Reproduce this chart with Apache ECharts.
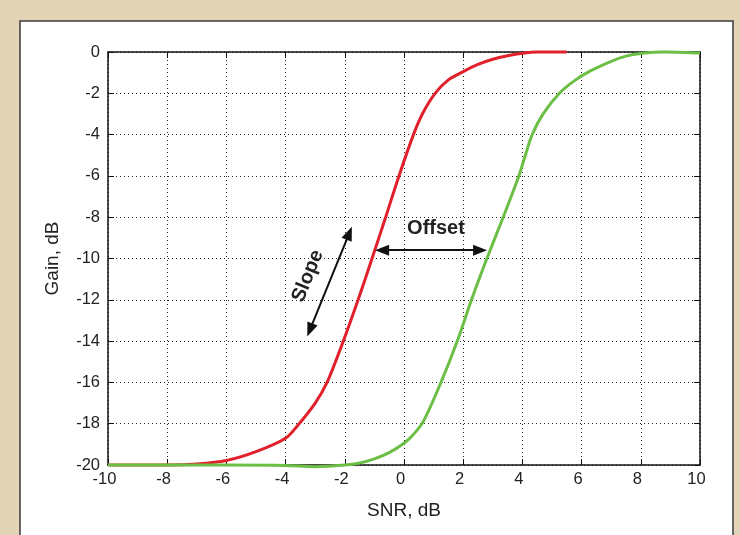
<!DOCTYPE html>
<html><head><meta charset="utf-8">
<script src="https://cdn.jsdelivr.net/npm/echarts@6/dist/echarts.min.js"></script>
<style>html,body{margin:0;padding:0;background:#e3d4b7;}#c{width:740px;height:535px;}</style>
</head><body><div id="c"></div>
<script>
// Tick values
const xTicks = [-10,-8,-6,-4,-2,0,2,4,6,8,10];
const yTicks = [0,-2,-4,-6,-8,-10,-12,-14,-16,-18,-20];
// Red curve (SNR, gain)
const redX = [-10,-8,-7,-6,-5,-4,-3.6,-3,-2.6,-2.05,-1.55,-1.08,-0.62,-0.17,0.32,0.62,1.05,1.5,2,2.5,3,3.5,4,4.5,5.5];
const redY = [-20,-20,-19.95,-19.78,-19.35,-18.7,-18.1,-17.0,-16,-14,-12,-10,-8,-6,-4,-3,-2,-1.35,-0.95,-0.6,-0.35,-0.18,-0.06,0,0];
// Green curve
const greenX = [-10,-6,-4,-3,-2,-1.5,-1,-0.5,0,0.3,0.65,1.25,1.8,2.28,2.8,3.35,3.88,4.1,4.33,4.7,5.25,5.75,6.25,7,7.5,8,8.8,9.5,10];
const greenY = [-20,-20,-20.02,-20.08,-20,-19.9,-19.7,-19.4,-18.95,-18.55,-17.9,-16,-14,-12,-10,-8,-6,-5,-4,-3,-2,-1.4,-0.95,-0.45,-0.2,-0.07,0,-0.02,-0.05];
// Annotations
const offsetArrow = [[-0.74,-9.6],[2.57,-9.6]];
const slopeArrow = [[-3.18,-13.46],[-1.85,-8.78]];
const offsetLabel = {text:'Offset', pos:[1.08,-8.55]};
const slopeLabel = {text:'Slope', pos:[-3.25,-10.85]};

const zip = (a,b)=>a.map((v,i)=>[v,b[i]]);
const font = 'Liberation Sans, Arial, Helvetica, sans-serif';
const chart = echarts.init(document.getElementById('c'));
const gridLine = {show:true,lineStyle:{color:'#222',type:[1,3],width:1}};
const axisBase = {
  type:'value', min:-10, max:10, interval:2,
  axisLine:{show:true,onZero:false,lineStyle:{color:'#111',width:1.5}},
  axisTick:{show:true,inside:true,length:6,lineStyle:{color:'#111',width:1}},
};
const panel = {type:'rect',shape:{x:20,y:21,width:713,height:530},style:{fill:'#fff',stroke:'#3a3a3a',lineWidth:1.5},z:-10};
chart.setOption({
  animation:false,
  backgroundColor:'#e3d4b7',
  graphic:[panel],
  grid:{left:108,right:40,top:52,bottom:70},
  xAxis:[
    Object.assign({},axisBase,{position:'bottom',
      name:'SNR, dB',nameLocation:'middle',nameGap:36,
      nameTextStyle:{fontFamily:font,fontSize:19,color:'#222'},
      axisLabel:{fontFamily:font,fontSize:16.5,color:'#222',margin:6,padding:[0,7,0,0]},
      splitLine:gridLine}),
    Object.assign({},axisBase,{position:'top',axisLabel:{show:false},splitLine:{show:false}})
  ],
  yAxis:[
    Object.assign({},axisBase,{min:-20,max:0,position:'left',
      name:'Gain, dB',nameLocation:'middle',nameGap:46,
      nameTextStyle:{fontFamily:font,fontSize:19,color:'#222'},
      axisLabel:{fontFamily:font,fontSize:16.5,color:'#222',margin:8},
      splitLine:gridLine}),
    Object.assign({},axisBase,{min:-20,max:0,position:'right',axisLabel:{show:false},splitLine:{show:false}})
  ],
  series:[
    {type:'line',data:zip(redX,redY),smooth:0.3,showSymbol:false,clip:false,
     lineStyle:{color:'#e0202b',width:3},z:3},
    {type:'line',data:zip(greenX,greenY),smooth:0.3,showSymbol:false,clip:false,
     lineStyle:{color:'#6cbf45',width:3},z:3},
    {type:'line',data:[],silent:true,
     markLine:{silent:true,symbol:['triangle','triangle'],symbolSize:[11,14],
       lineStyle:{color:'#111',width:2,type:'solid'},label:{show:false},
       data:[
         [{coord:offsetArrow[0]},{coord:offsetArrow[1]}],
         [{coord:slopeArrow[0]},{coord:slopeArrow[1]}]
       ]}}
  ]
});
function addLabels(){
  const p1 = chart.convertToPixel({xAxisIndex:0,yAxisIndex:0}, offsetLabel.pos);
  const p2 = chart.convertToPixel({xAxisIndex:0,yAxisIndex:0}, slopeLabel.pos);
  const a = chart.convertToPixel({xAxisIndex:0,yAxisIndex:0}, slopeArrow[0]);
  const b = chart.convertToPixel({xAxisIndex:0,yAxisIndex:0}, slopeArrow[1]);
  const ang = Math.atan2(a[1]-b[1], b[0]-a[0]);
  chart.setOption({graphic:[
    panel,
    {type:'text',x:p1[0],y:p1[1],style:{text:offsetLabel.text,fontFamily:font,fontSize:20,fontWeight:'bold',fill:'#222',align:'center',verticalAlign:'middle'},z:10},
    {type:'text',x:p2[0],y:p2[1],rotation:ang,style:{text:slopeLabel.text,fontFamily:font,fontSize:20,fontWeight:'bold',fill:'#222',align:'center',verticalAlign:'middle'},z:10}
  ]});
}
addLabels();
</script></body></html>
